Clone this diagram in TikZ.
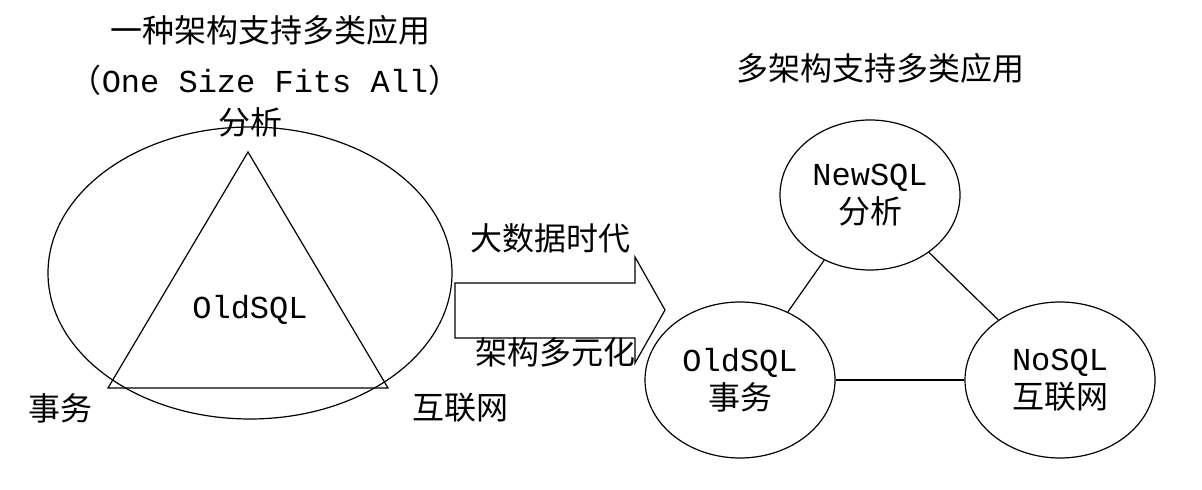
\documentclass[tikz,border=0pt]{standalone}
\usepackage{fontspec}
\setmainfont{Noto Sans CJK SC}
\newfontfamily\latinmono{Liberation Mono}
\usetikzlibrary{shapes.geometric}
\begin{document}
\begin{tikzpicture}[x=0.5pt,y=-0.5pt,
  lbl/.style={font=\fontsize{16}{19}\selectfont, inner sep=0pt, align=center},
  db/.style={draw, ellipse, line width=0.6pt, inner sep=0pt},
  link/.style={line width=0.6pt}
]
\useasboundingbox (0,0) rectangle (1202,490);
% left side
\node[lbl] (title) at (270,30) {一种架构支持多类应用};
\node[lbl] (osfa) at (265,80) {（{\latinmono One Size Fits All}）};
\node[lbl] (ana) at (250,122) {分析};
\node[db, minimum width=202pt, minimum height=146pt] (whole) at (250,273) {};
\coordinate (ta) at (248,152);
\coordinate (tb) at (108,388);
\coordinate (tc) at (388,388);
\draw[link] (ta) -- (tb) -- (tc) -- cycle;
\node[lbl] (old) at (250,310) {\latinmono OldSQL};
\node[lbl] (tx) at (60,408) {事务};
\node[lbl] (web) at (460,408) {互联网};
% arrow
\draw[link] (455,283) -- (635,283) -- (635,257) -- (665,310) -- (635,363) -- (635,338) -- (455,338) -- cycle;
\node[lbl] (bd) at (550,238) {大数据时代};
\node[lbl] (div) at (555,352) {架构多元化};
% right side
\node[lbl] (title2) at (880,68) {多架构支持多类应用};
\node[db, minimum width=90pt, minimum height=75pt, lbl, draw] (newsql) at (870,195) {{\latinmono NewSQL}\\分析};
\node[db, minimum width=95pt, minimum height=78pt, lbl, draw] (oldsql) at (740,380) {{\latinmono OldSQL}\\事务};
\node[db, minimum width=95pt, minimum height=78pt, lbl, draw] (nosql) at (1060,380) {{\latinmono NoSQL}\\互联网};
\draw[link] (newsql) -- (oldsql);
\draw[link] (newsql) -- (nosql);
\draw[link] (oldsql) -- (nosql);
\end{tikzpicture}
\end{document}
